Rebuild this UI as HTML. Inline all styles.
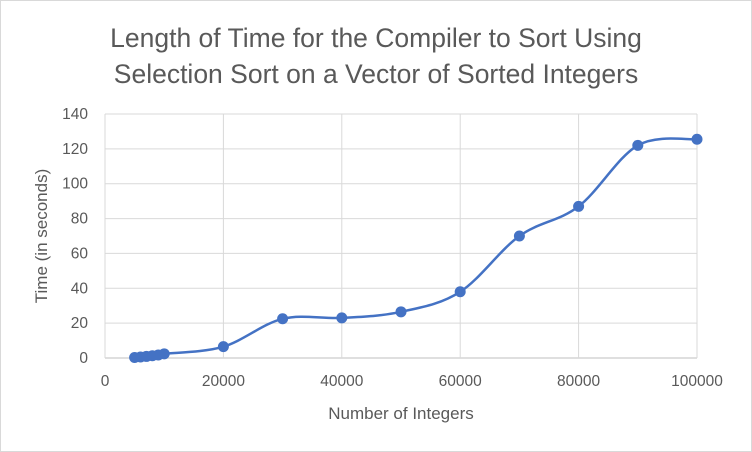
<!DOCTYPE html>
<html><head><meta charset="utf-8"><style>
body{margin:0;background:#fff}
svg{display:block;font-family:"Liberation Sans",sans-serif}
</style></head><body>
<svg id="c" width="752" height="452">
<rect x="0.5" y="0.5" width="751" height="451" fill="#fff" stroke="#d9d9d9"/>
<text x="376" y="47" text-anchor="middle" font-size="26.5" fill="#595959">Length of Time for the Compiler to Sort Using</text>
<text x="376" y="83" text-anchor="middle" font-size="26.5" fill="#595959">Selection Sort on a Vector of Sorted Integers</text>
<text x="401" y="419" text-anchor="middle" font-size="17" fill="#595959">Number of Integers</text>
<text transform="translate(47,236) rotate(-90)" text-anchor="middle" font-size="17" fill="#595959">Time (in seconds)</text>
<g id="grid"></g><g id="marks"></g>
</svg>
<script>
const xValues=[5000,6000,7000,8000,9000,10000,20000,30000,40000,50000,60000,70000,80000,90000,100000];
const yValues=[0.3,0.6,0.9,1.3,1.7,2.4,6.5,22.5,23,26.5,38,70,87,122,125.5];
const xTicks=[0,20000,40000,60000,80000,100000];
const yTicks=[0,20,40,60,80,100,120,140];
const NS="http://www.w3.org/2000/svg";
const X=v=>105+v/100000*592, Y=v=>358-v/140*244;
const grid=document.getElementById('grid'), marks=document.getElementById('marks');
function mk(tag,attrs,parent){const e=document.createElementNS(NS,tag);for(const k in attrs)e.setAttribute(k,attrs[k]);parent.appendChild(e);return e;}
yTicks.forEach(t=>{
 const l=mk('line',{x1:105,x2:697,y1:Y(t),y2:Y(t),stroke:t===0?'#bfbfbf':'#d9d9d9'},grid);
 
 
 const tx=mk('text',{x:88,y:Y(t)+5,'text-anchor':'end','font-size':15.5,fill:'#595959'},grid);tx.textContent=t;
 
 
});
xTicks.forEach(t=>{
 const l=mk('line',{x1:X(t),x2:X(t),y1:Y(140),y2:Y(0),stroke:'#d9d9d9'},grid);
 
 
 const tx=mk('text',{x:X(t),y:386,'text-anchor':'middle','font-size':15.5,fill:'#595959'},grid);tx.textContent=t;
 
 
});
const P=xValues.map((v,i)=>[X(v),Y(yValues[i])]);
let d=`M${P[0][0]},${P[0][1]}`;
for(let i=0;i<P.length-1;i++){
 const p0=P[Math.max(i-1,0)],p1=P[i],p2=P[i+1],p3=P[Math.min(i+2,P.length-1)],k=1/6;
 d+=` C${p1[0]+(p2[0]-p0[0])*k},${p1[1]+(p2[1]-p0[1])*k} ${p2[0]-(p3[0]-p1[0])*k},${p2[1]-(p3[1]-p1[1])*k} ${p2[0]},${p2[1]}`;
}
const line=mk('path',{d:d,fill:'none',stroke:'#4472c4','stroke-width':2.5},marks);


P.forEach(p=>{
 const c=mk('circle',{cx:p[0],cy:p[1],r:5.5,fill:'#4472c4'},marks);
 
 
});
</script>
</body></html>
